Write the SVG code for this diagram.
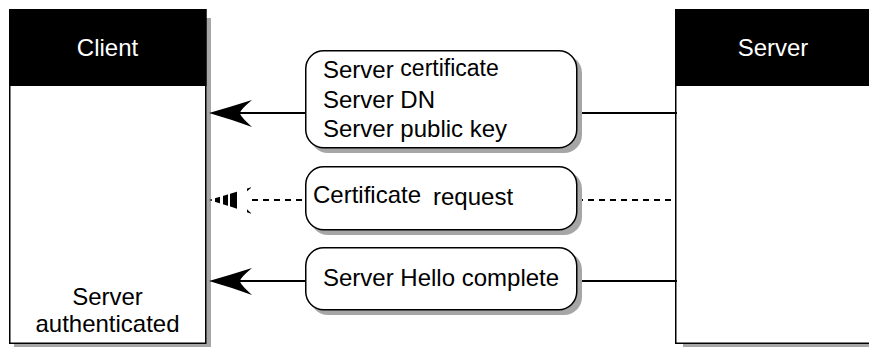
<svg xmlns="http://www.w3.org/2000/svg" width="869" height="347" viewBox="0 0 869 347">
<style>
text{font-family:"Liberation Sans",Arial,sans-serif;font-size:24px;fill:#000}
.hdr{fill:#fff}
.shadow{fill:#a6a6a6}
.box{fill:#fff;stroke:#000;stroke-width:1.5}
.msg{fill:#fff;stroke:#000;stroke-width:1.5}
.line{stroke:#000;stroke-width:2;fill:none}
.dash{stroke-dasharray:6 5}
</style>
<defs>
<path id="ah" d="M209,0 Q230,-6 252,-13 Q240,-3 240,0 Q240,3 252,14 Q230,6 209,0 Z"/>
<mask id="dm" maskUnits="userSpaceOnUse" x="200" y="180" width="60" height="40">
<line x1="208" y1="200" x2="255" y2="200" stroke="#fff" stroke-width="40" stroke-dasharray="4 3 5 3 5 2 7 10 4 10"/>
</mask>
</defs>
<g id="client">
<rect class="shadow" x="14" y="18" width="197" height="329"/>
<rect class="box" x="9.75" y="9.75" width="196" height="333.5"/>
<rect x="9" y="9" width="197.5" height="77" fill="#000"/>
<text class="hdr" x="107.5" y="56" text-anchor="middle">Client</text>
<text x="107.5" y="305" text-anchor="middle">Server</text>
<text x="107.5" y="332" text-anchor="middle">authenticated</text>
</g>
<g id="server">
<rect class="shadow" x="683" y="18" width="200" height="329"/>
<rect class="box" x="675.75" y="9.75" width="200" height="333.5"/>
<rect x="675" y="9" width="200" height="77" fill="#000"/>
<text class="hdr" x="773" y="56" text-anchor="middle">Server</text>
</g>
<g id="connectors">
<line class="line" x1="240" y1="113" x2="306" y2="113"/>
<line class="line" x1="576" y1="113" x2="677" y2="113"/>
<use href="#ah" transform="translate(0,113)"/>
<line class="line dash" x1="252" y1="200" x2="306" y2="200"/>
<line class="line dash" x1="577" y1="200" x2="675" y2="200"/>
<g mask="url(#dm)"><use href="#ah" transform="translate(0,200)"/></g>
<line class="line" x1="240" y1="281" x2="306" y2="281"/>
<line class="line" x1="576" y1="281" x2="677" y2="281"/>
<use href="#ah" transform="translate(0,281)"/>
</g>
<g id="msg1">
<rect class="shadow" x="310" y="55" width="272" height="98" rx="18"/>
<rect class="msg" x="305.75" y="50.75" width="271" height="97" rx="18"/>
<text x="323" y="78">Server <tspan font-size="23" dy="-2">certificate</tspan></text>
<text x="323" y="108">Server DN</text>
<text x="323" y="137">Server public key</text>
</g>
<g id="msg2">
<rect class="shadow" x="310" y="171" width="272" height="64" rx="18"/>
<rect class="msg" x="305.75" y="166.75" width="271" height="63" rx="18"/>
<text x="313" y="203">Certificate</text>
<text x="433" y="205">request</text>
</g>
<g id="msg3">
<rect class="shadow" x="310" y="252" width="272" height="63" rx="18"/>
<rect class="msg" x="305.75" y="247.75" width="271" height="62" rx="18"/>
<text x="323" y="286">Server Hello complete</text>
</g>
</svg>
